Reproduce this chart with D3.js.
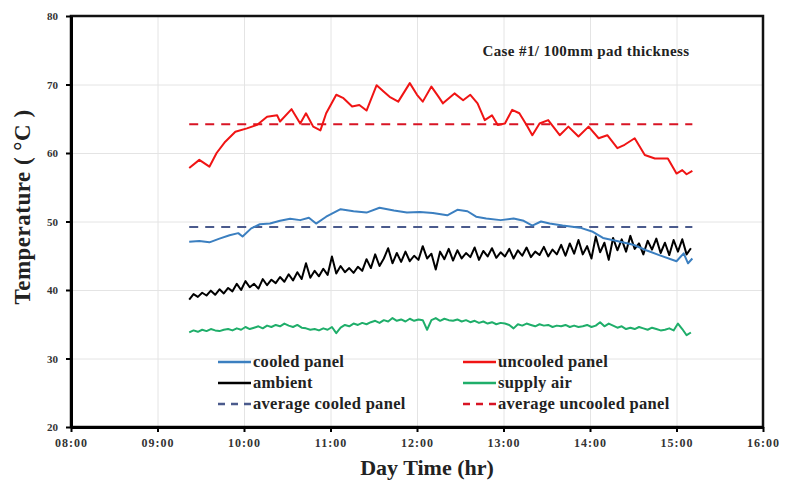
<!DOCTYPE html>
<meta charset="utf-8">
<style>
body { margin: 0; background: #fff; }
svg { display: block; font-family: "Liberation Serif", "Times New Roman", serif; font-weight: bold; }
.grid line { stroke: #e4e4e4; stroke-width: 1px; }
.grid path { display: none; }
.axis path, .axis line { stroke: #000; }
.axis text { font-family: "Liberation Serif", serif; font-weight: bold; fill: #333; }
.line { fill: none; stroke-width: 2px; stroke-linejoin: round; }
.avg { fill: none; stroke-width: 2px; stroke-dasharray: 9 7; }
</style>
<svg width="798" height="482"></svg>
<script src="https://cdn.jsdelivr.net/npm/d3@7"></script>
<script>

// cooled panel (blue)
var cooledTimes = ["09:22","09:29","09:36","09:43","09:50","09:56","09:59","10:05","10:11","10:18",
  "10:25","10:32","10:39","10:45","10:50","10:57","11:07","11:16","11:25","11:34","11:44","11:53",
  "12:02","12:11","12:21","12:28","12:35","12:41","12:48","12:58","13:07","13:14","13:20","13:26",
  "13:32","13:41","13:53","14:02","14:09","14:21","14:30","14:39","14:48","15:00","15:05","15:08","15:11"];
var cooledValues = [47.05,47.15,46.96,47.5,48.0,48.3,47.8,49.0,49.6,49.7,
  50.1,50.4,50.2,50.55,49.7,50.7,51.8,51.5,51.3,52.0,51.6,51.3,
  51.4,51.25,50.9,51.7,51.5,50.7,50.45,50.2,50.45,50.1,49.4,50.0,
  49.7,49.4,49.1,48.5,47.6,47.05,46.6,45.8,45.1,44.2,45.35,43.9,44.6];

// uncooled panel (red)
var uncooledTimes = ["09:22","09:29","09:36","09:41","09:47","09:54","10:02","10:09","10:16","10:23",
  "10:25","10:33","10:39","10:43","10:48","10:53","10:57","11:04","11:09","11:15","11:20","11:25",
  "11:32","11:37","11:41","11:47","11:55","12:00","12:04","12:10","12:15","12:18","12:26","12:32",
  "12:37","12:42","12:47","12:52","12:56","13:01","13:06","13:11","13:16","13:20","13:25","13:31",
  "13:39","13:45","13:52","13:59","14:06","14:12","14:19","14:24","14:31","14:38","14:45","14:54",
  "15:00","15:04","15:07","15:11"];
var uncooledValues = [57.8,59.0,58.0,60.0,61.65,63.1,63.6,64.1,65.3,65.5,
  64.6,66.4,64.3,65.8,63.85,63.3,65.8,68.5,68.0,66.8,67.0,66.2,
  69.9,68.95,68.2,67.5,70.2,68.5,67.5,69.7,68.2,67.25,68.7,67.7,
  68.5,67.25,64.8,65.5,64.1,64.3,66.3,65.8,64.1,62.6,64.3,64.8,
  62.6,63.85,62.4,63.85,62.15,62.6,60.7,61.2,62.15,59.7,59.2,59.2,
  57.0,57.5,56.9,57.4];

// ambient and supply air, logged every 3 minutes from 09:22
var loggerStart = "09:22";
var loggerStep = 3;
var ambientValues = [
  38.6,39.4,39.0,39.6,39.2,39.9,39.3,40.1,39.5,40.3,
  39.8,40.9,40.0,41.3,40.4,40.9,40.2,41.6,40.7,41.5,
  41.0,41.9,41.2,42.3,41.4,42.6,41.6,43.9,41.8,42.8,
  42.0,43.1,42.2,44.9,42.4,43.5,42.6,43.2,42.5,43.4,
  42.8,44.5,43.2,45.2,43.5,44.6,46.1,43.9,45.4,44.1,
  45.6,44.2,45.0,44.4,46.4,44.6,45.3,43.0,45.6,44.5,
  46.0,44.3,45.8,44.6,45.4,44.8,46.2,44.4,45.7,44.9,
  46.1,44.7,45.5,44.9,46.0,44.6,45.8,45.0,46.2,44.8,
  45.6,45.1,46.3,44.9,45.9,45.2,46.6,45.0,46.8,45.3,
  47.3,45.2,46.4,44.6,47.8,45.5,46.9,44.4,47.6,45.8,
  47.4,45.6,47.9,46.0,46.8,45.2,47.2,45.9,47.5,45.4,
  46.9,45.1,47.3,45.6,47.4,45.2,46.1];
var supplyValues = [
  33.8,34.1,33.9,34.2,34.0,34.3,34.1,34.0,34.2,34.3,
  34.1,34.4,34.2,34.6,34.3,34.5,34.7,34.4,34.8,34.6,
  34.9,34.7,35.1,34.8,34.6,34.9,34.5,34.4,34.2,34.3,
  34.1,34.4,34.2,34.6,33.7,34.5,34.9,34.7,35.1,34.9,
  35.2,35.0,35.3,35.5,35.2,35.6,35.4,35.9,35.5,35.7,
  35.4,35.8,35.5,35.7,35.6,34.2,35.6,35.9,35.5,35.8,
  35.6,35.5,35.7,35.4,35.6,35.3,35.5,35.2,35.4,35.1,
  35.3,35.0,35.2,35.1,34.9,34.4,35.0,34.8,35.1,34.9,
  34.7,35.0,34.8,34.9,34.6,34.8,34.7,34.9,34.6,34.8,
  34.6,34.7,34.9,34.6,34.8,35.3,34.7,35.1,34.8,34.5,
  34.7,34.3,34.5,34.3,34.6,34.4,34.2,34.5,34.3,34.1,
  34.2,34.4,34.1,35.1,34.3,33.4,33.8];

// averages
var averageSpan = ["09:22","15:11"];
var avgCooled = 49.2;
var avgUncooled = 64.2;

var xTicks = ["08:00","09:00","10:00","11:00","12:00","13:00","14:00","15:00","16:00"];
var yTicks = [20,30,40,50,60,70,80];

var legendItems = [
  {name: "cooled panel", color: "#3b7fc0", dash: null},
  {name: "uncooled panel", color: "#f01414", dash: null},
  {name: "ambient", color: "#000", dash: null},
  {name: "supply air", color: "#1fae6a", dash: null},
  {name: "average cooled panel", color: "#4a5a8c", dash: "7 6"},
  {name: "average uncooled panel", color: "#d81424", dash: "7 6"}
];

var parseTime = d3.timeParse("%H:%M");

var svg = d3.select("svg"),
    margin = {top: 16, right: 35, bottom: 55, left: 71},
    width = +svg.attr("width") - margin.left - margin.right,
    height = +svg.attr("height") - margin.top - margin.bottom,
    g = svg.append("g").attr("transform", "translate(" + margin.left + "," + margin.top + ")");

var x = d3.scaleTime().domain([parseTime("08:00"), parseTime("16:00")]).range([0, width]),
    y = d3.scaleLinear().domain([20, 80]).range([height, 0]);

var xTickVals = xTicks.map(parseTime);

// grid
g.append("g").attr("class", "grid")
    .attr("transform", "translate(0," + height + ")")
    .call(d3.axisBottom(x).tickValues(xTickVals).tickSize(-height).tickFormat(""));
g.append("g").attr("class", "grid")
    .call(d3.axisLeft(y).tickValues(yTicks).tickSize(-width).tickFormat(""));

function pairs(times, values) {
  return times.map(function(t, i) { return {t: parseTime(t), v: values[i]}; });
}
function logged(values) {
  var s = parseTime(loggerStart);
  return values.map(function(v, i) { return {t: d3.timeMinute.offset(s, i * loggerStep), v: v}; });
}

var line = d3.line()
    .x(function(d) { return x(d.t); })
    .y(function(d) { return y(d.v); });

var series = [
  {data: logged(supplyValues), color: legendItems[3].color, w: 2},
  {data: logged(ambientValues), color: legendItems[2].color, w: 2.6},
  {data: pairs(cooledTimes, cooledValues), color: legendItems[0].color, w: 2},
  {data: pairs(uncooledTimes, uncooledValues), color: legendItems[1].color, w: 2}
];

[{v: avgCooled, color: legendItems[4].color}, {v: avgUncooled, color: legendItems[5].color}].forEach(function(a) {
  g.append("path")
      .attr("class", "avg")
      .attr("stroke", a.color)
      .attr("d", line(averageSpan.map(function(t) { return {t: parseTime(t), v: a.v}; })));
});

series.forEach(function(s) {
  g.append("path")
      .attr("class", "line")
      .attr("stroke", s.color)
      .attr("stroke-width", s.w)
      .attr("d", line(s.data));
});

// frame
g.append("rect")
    .attr("width", width).attr("height", height)
    .attr("fill", "none").attr("stroke", "#111").attr("stroke-width", 2.5);

g.append("g").attr("class", "axis")
    .attr("transform", "translate(0," + height + ")")
    .call(d3.axisBottom(x).tickValues(xTickVals).tickSize(5).tickSizeOuter(0).tickPadding(6)
      .tickFormat(d3.timeFormat("%H:%M")))
    .call(function(a) {
      a.select(".domain").attr("stroke-width", 3);
      a.selectAll("line").attr("stroke-width", 2);
      a.selectAll("text").style("font-size", "12px").style("letter-spacing", "1px");
    });

g.append("g").attr("class", "axis")
    .call(d3.axisLeft(y).tickValues(yTicks).tickSize(5).tickSizeOuter(0).tickPadding(8))
    .call(function(a) {
      a.select(".domain").attr("stroke-width", 3);
      a.selectAll("line").attr("stroke-width", 2);
      a.selectAll("text").style("font-size", "11px");
    });

// axis titles
svg.append("text")
    .attr("x", 427)
    .attr("y", 475)
    .attr("text-anchor", "middle")
    .style("font-size", "22px")
    .style("fill", "#222")
    .text("Day Time (hr)");

svg.append("text")
    .attr("transform", "translate(30,207) rotate(-90)")
    .attr("text-anchor", "middle")
    .style("font-size", "23px")
    .style("letter-spacing", "0.5px")
    .style("fill", "#222")
    .text("Temperature ( \u00b0C )");

svg.append("text")
    .attr("x", 586)
    .attr("y", 56)
    .attr("text-anchor", "middle")
    .style("font-size", "15px")
    .style("letter-spacing", "0.4px")
    .style("fill", "#222")
    .text("Case #1/ 100mm pad thickness");

// legend
var legend = svg.append("g").attr("transform", "translate(218,362)");
legendItems.forEach(function(d, i) {
  var col = i % 2, row = Math.floor(i / 2);
  var item = legend.append("g").attr("transform", "translate(" + (col * 245) + "," + (row * 21) + ")");
  item.append("line")
      .attr("x1", 0).attr("x2", 33).attr("y1", 0).attr("y2", 0)
      .attr("stroke", d.color).attr("stroke-width", 2.5)
      .attr("stroke-dasharray", d.dash);
  item.append("text")
      .attr("x", 35).attr("y", 5)
      .style("font-size", "16.5px")
      .style("letter-spacing", "0.3px")
      .style("fill", "#222")
      .text(d.name);
});

</script>
